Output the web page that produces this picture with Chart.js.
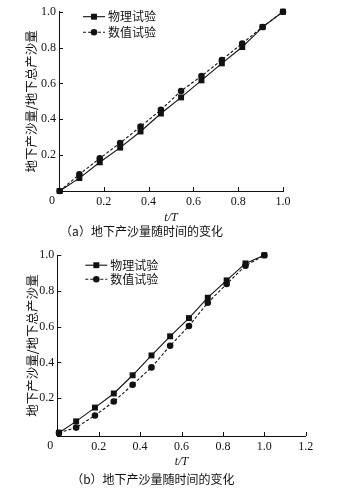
<!DOCTYPE html>
<html><head><meta charset="utf-8">
<script src="https://cdn.jsdelivr.net/npm/chart.js@4.4.1/dist/chart.umd.min.js"></script>
<style>
html,body{margin:0;padding:0;background:#fff;}
canvas{display:block}
</style></head><body>
<canvas id="ca" width="361" height="245"></canvas>
<canvas id="cb" width="361" height="246"></canvas>
<script>
// ---- data ----
const seriesNames = ['物理试验', '数值试验'];
const tA    = [0.003, 0.091, 0.182, 0.273, 0.364, 0.455, 0.545, 0.636, 0.727, 0.818, 0.909, 1.0];
const physA = [0.0, 0.072, 0.16, 0.242, 0.332, 0.432, 0.522, 0.617, 0.712, 0.803, 0.914, 1.0];
const numA  = [0.0, 0.093, 0.182, 0.268, 0.359, 0.453, 0.558, 0.641, 0.731, 0.823, 0.915, 1.0];
const tB    = [0.008, 0.091, 0.182, 0.273, 0.364, 0.455, 0.545, 0.636, 0.727, 0.818, 0.909, 1.0];
const physB = [0.006, 0.07, 0.147, 0.226, 0.328, 0.439, 0.546, 0.648, 0.762, 0.859, 0.954, 1.0];
const numB  = [0.006, 0.035, 0.103, 0.181, 0.275, 0.372, 0.493, 0.604, 0.734, 0.839, 0.941, 1.0];
const xTicksA = [0.2, 0.4, 0.6, 0.8, 1.0];
const xTickLabelsA = ['0.2', '0.4', '0.6', '0.8', '1.0'];
const xTicksB = [0.2, 0.4, 0.6, 0.8, 1.0, 1.2];
const xTickLabelsB = ['0.2', '0.4', '0.6', '0.8', '1.0', '1.2'];
const yTicks = [0.2, 0.4, 0.6, 0.8, 1.0];
const yTickLabels = ['0.2', '0.4', '0.6', '0.8', '1.0'];
const originLabel = '0';
const xTitle = 't/T';
const yTitle = '地下产沙量/地下总产沙量';
const captionA = '（a）地下产沙量随时间的变化';
const captionB = '（b）地下产沙量随时间的变化';

const INK = '#111';
const SERIF = "'Liberation Serif', 'Times New Roman', serif";
const CJK = "'Noto Sans CJK SC', sans-serif";

function pts(xs, ys){ return xs.map((x,i)=>({x:x, y:ys[i]})); }

function drawMarker(ctx, style, x, y, r){
  ctx.beginPath();
  if(style === 'rect'){
    const s = Math.SQRT1_2 * r;
    ctx.rect(x - s, y - s, 2*s, 2*s);
  } else {
    ctx.arc(x, y, r, 0, Math.PI*2);
  }
  ctx.fillStyle = INK;
  ctx.fill();
}

const decorPlugin = {
  id: 'decor',
  afterDraw(chart, args, o){
    const {ctx, chartArea} = chart;
    const xs = chart.scales.x, ys = chart.scales.y;
    ctx.save();
    // inward tick marks
    ctx.strokeStyle = INK; ctx.lineWidth = 1;
    ctx.beginPath();
    xs.ticks.forEach(t=>{
      const px = Math.round(xs.getPixelForValue(t.value)) + 0.5;
      ctx.moveTo(px, chartArea.bottom); ctx.lineTo(px, chartArea.bottom - 4);
    });
    ys.ticks.forEach(t=>{
      const py = Math.round(ys.getPixelForValue(t.value)) + 0.5;
      ctx.moveTo(chartArea.left, py); ctx.lineTo(chartArea.left + 4, py);
    });
    ctx.stroke();
    // origin label
    ctx.fillStyle = INK;
    ctx.font = '12px ' + SERIF;
    ctx.textAlign = 'center'; ctx.textBaseline = 'middle';
    ctx.fillText(originLabel, xs.getPixelForValue(0) - 7, chartArea.bottom + 10);
    // in-plot legend
    chart.data.datasets.forEach((ds, i)=>{
      const y = chartArea.top + o.top + i * o.rowGap;
      const x0 = chartArea.left + o.left, x1 = x0 + o.lineLen;
      ctx.strokeStyle = INK; ctx.lineWidth = ds.borderWidth;
      ctx.setLineDash(ds.borderDash || []);
      ctx.beginPath(); ctx.moveTo(x0, y); ctx.lineTo(x1, y); ctx.stroke();
      ctx.setLineDash([]);
      drawMarker(ctx, ds.pointStyle, (x0 + x1)/2, y, ds.pointRadius);
      ctx.fillStyle = INK;
      ctx.font = '12px ' + CJK;
      ctx.textAlign = 'left'; ctx.textBaseline = 'middle';
      ctx.fillText(ds.label, x1 + o.gap, y);
    });
    ctx.restore();
  }
};

function makeChart(id, cfg){
  const datasets = [
    {label: seriesNames[0], data: pts(cfg.t, cfg.phys), borderColor: INK, backgroundColor: INK,
     borderWidth: 1.1, pointStyle: 'rect', pointRadius: 4.2, pointBackgroundColor: INK,
     pointBorderWidth: 0, tension: 0, clip: false},
    {label: seriesNames[1], data: pts(cfg.t, cfg.num), borderColor: INK, backgroundColor: INK,
     borderWidth: 1.1, borderDash: [3, 2], pointStyle: 'circle', pointRadius: 3.3, pointBackgroundColor: INK,
     pointBorderWidth: 0, tension: 0, clip: false}
  ];
  return new Chart(document.getElementById(id), {
    type: 'line',
    data: {datasets},
    plugins: [decorPlugin],
    options: {
      responsive: false, animation: false, events: [],
      layout: {padding: {top: cfg.padTop, right: cfg.padRight, left: 0, bottom: 0}},
      plugins: {
        legend: {display: false}, tooltip: {enabled: false},
        title: {display: true, position: 'bottom', text: cfg.caption, color: INK,
                font: {family: CJK, size: 12, weight: 'normal'}, padding: {top: 0, bottom: cfg.capPad}},
        decor: cfg.legend
      },
      scales: {
        x: {type: 'linear', min: 0, max: cfg.xMax,
            afterFit(s){ s.height = cfg.xH; },
            afterBuildTicks(s){ s.ticks = cfg.xTicks.map(v=>({value:v})); },
            ticks: {callback: (v, i)=>cfg.xLabels[i], color: INK, padding: 4,
                    font: {family: SERIF, size: 12}, maxRotation: 0, autoSkip: false},
            grid: {display: false, drawTicks: false},
            border: {display: true, color: INK, width: 1},
            title: {display: true, text: xTitle, color: INK,
                    font: {family: SERIF, size: 12, style: 'italic'}, padding: {top: 0, bottom: cfg.xTitlePad}}},
        y: {type: 'linear', min: cfg.yMin, max: 1.0,
            afterFit(s){ s.width = cfg.yW; },
            afterBuildTicks(s){ s.ticks = yTicks.map(v=>({value:v})); },
            ticks: {callback: (v, i)=>yTickLabels[i], color: INK, padding: 3,
                    font: {family: SERIF, size: 12}, autoSkip: false},
            grid: {display: false, drawTicks: false},
            border: {display: true, color: INK, width: 1},
            title: {display: true, text: yTitle, color: INK,
                    font: {family: CJK, size: 12.5, weight: 'normal'}, padding: {top: cfg.yTitlePad, bottom: 0}}}
      }
    }
  });
}

makeChart('ca', {t: tA, phys: physA, num: numA, xMax: 1.0, yMin: 0, xTicks: xTicksA, xLabels: xTickLabelsA,
  caption: captionA, padTop: 11.7, padRight: 78, yW: 59, xH: 33.6, capPad: 6, xTitlePad: 0, yTitlePad: 24,
  legend: {left: 24, top: 5, rowGap: 15.5, lineLen: 22, gap: 3}});
makeChart('cb', {t: tB, phys: physB, num: numB, xMax: 1.2, yMin: -0.012, xTicks: xTicksB, xLabels: xTickLabelsB,
  caption: captionB, padTop: 6.7, padRight: 55.3, yW: 57.3, xH: 35.8, capPad: 4.8, xTitlePad: 2.3, yTitlePad: 25,
  legend: {left: 28, top: 10, rowGap: 14, lineLen: 22, gap: 3}});
</script>
</body></html>
